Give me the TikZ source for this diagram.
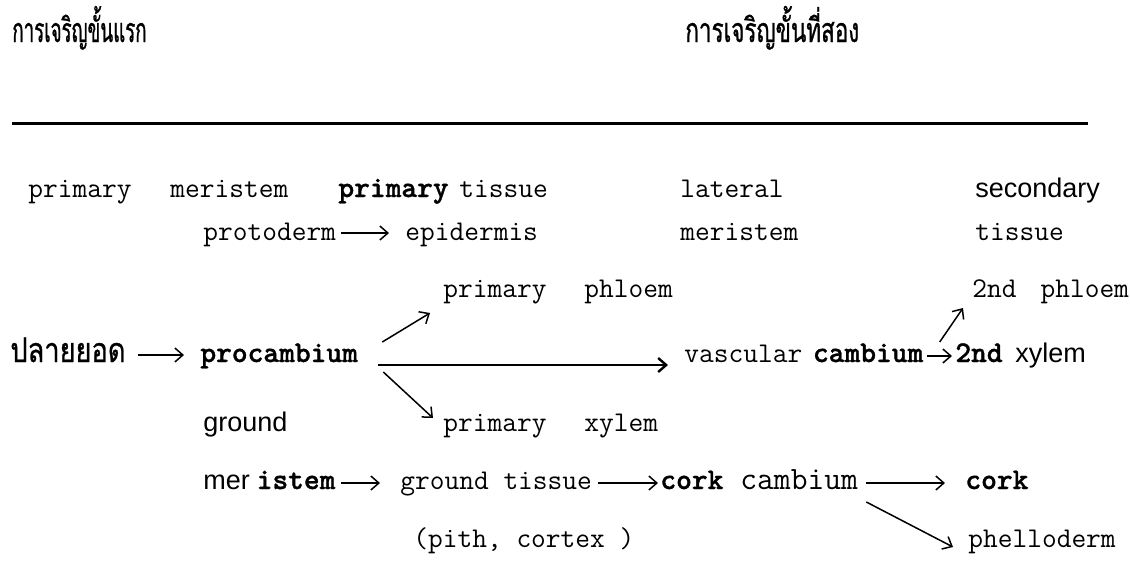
\documentclass[tikz,border=0pt]{standalone}
\usepackage{fontspec}
\setsansfont{Liberation Sans}
\newfontfamily\thaifont[Script=Thai,FakeStretch=0.55,FakeBold=0.8]{Loma}
\newfontfamily\thaiwide[Script=Thai,FakeStretch=0.66,FakeBold=0.8]{Loma}
\newfontfamily\tipfont[Script=Thai,FakeStretch=0.8,FakeBold=0.8]{Loma}
\newfontfamily\heavytt[FakeBold=1.2]{lmmonolt10-bold.otf}
\usepackage{tikz}
\usetikzlibrary{arrows,arrows.meta,positioning}
\tikzstyle{word} = [inner sep=0pt, anchor=base west,
    font=\ttfamily\fontsize{14.3}{16}\selectfont]
\tikzstyle{boldword} = [word, font=\heavytt\fontsize{15}{16}\selectfont]
\tikzstyle{sansword} = [word, font=\sffamily\fontsize{13.5}{15}\selectfont]
\tikzstyle{thaiword} = [word, font=\thaifont\fontsize{17}{20}\selectfont]
\tikzstyle{line} = [draw, -{Straight Barb[length=4pt,width=7pt]}, line width=0.75pt]

\begin{document}
\begin{tikzpicture}[x=0.5pt,y=-0.5pt]
    \useasboundingbox (0,0) rectangle (1130,574);
    % Headings
    \node [thaiword] (first) at (12,42) {การเจริญขั้นแรก};
    \node [thaiword, font=\thaiwide\fontsize{17}{20}\selectfont] (second) at (685,42) {การเจริญขั้นที่สอง};
    \draw [line width=1.5pt] (12,123) -- (1088,123);
    % Place nodes
    \node [word] (pm) at (28,197) {primary};
    \node [word] (meri) at (170,197) {meristem};
    \node [boldword] (pt) at (338,197) {primary};
    \node [word, right=5pt of pt.base east, anchor=base west] (pttis) {tissue};
    \node [word] (lateral) at (680,197) {lateral};
    \node [sansword] (sec) at (975,197) {secondary};

    \node [word] (proto) at (203,240) {protoderm};
    \node [word] (epi) at (405,240) {epidermis};
    \node [word] (latmeri) at (680,240) {meristem};
    \node [word] (sectis) at (975,240) {tissue};

    \node [word] (phlA) at (443,297) {primary\hspace{19pt}phloem};
    \node [word] (phlB) at (972,297) {2nd\hspace{12pt}phloem};

    \node [thaiword, font=\tipfont\fontsize{17}{20}\selectfont] (tip) at (10,362) {ปลายยอด};
    \node [boldword] (procam) at (200,362) {procambium};
    \node [word] (vasc) at (684,362) {vascular};
    \node [boldword, right=5pt of vasc.base east, anchor=base west] (vcam) {cambium};
    \node [boldword] (xylB) at (955,362) {2nd};
    \node [sansword, right=6pt of xylB.base east, anchor=base west] (xylBw) {xylem};

    \node [sansword] (ground) at (203,431) {ground};
    \node [word] (xylA) at (443,431) {primary\hspace{19pt}xylem};

    \node [sansword] (mer) at (203,489) {mer};
    \node [boldword, right=3pt of mer.base east, anchor=base west] (istem) {istem};
    \node [word] (gtis) at (400,489) {ground tissue};
    \node [boldword] (corkA) at (660,489) {cork};
    \node [word, font=\ttfamily\fontsize{16.3}{17}\selectfont] (ccam) at (740,489) {cambium};
    \node [boldword] (corkB) at (965,489) {cork};

    \node [word] (pith) at (413,547) {(pith, cortex )};
    \node [word] (phello) at (968,547) {phelloderm};
    % Draw edges
    \path [line] ([xshift=6pt,yshift=3.5pt]tip.base east) -- ([xshift=-8pt,yshift=3.5pt]procam.base west);
    \path [line] ([xshift=2.5pt,yshift=3.5pt]proto.base east) -- ([xshift=-8pt,yshift=3.5pt]epi.base west);
    \path [line] ([xshift=12pt,yshift=10pt]procam.base east) -- ([xshift=-6.5pt,yshift=-8pt]phlA.base west);
    \path [line, line width=1.2pt] ([xshift=10pt,yshift=-1.5pt]procam.base east) -- ([xshift=-8pt,yshift=-1.5pt]vasc.base west);
    \path [line] ([xshift=12.5pt,yshift=-5pt]procam.base east) -- ([xshift=-5pt,yshift=6.5pt]xylA.base west);
    \path [line] ([xshift=1.5pt,yshift=3pt]vcam.base east) -- ([xshift=-1.5pt,yshift=3pt]xylB.base west);
    \path [line] ([xshift=8pt,yshift=10pt]vcam.base east) -- ([xshift=-4.5pt,yshift=-5.5pt]phlB.base west);
    \path [line] ([xshift=2.5pt,yshift=3pt]istem.base east) -- ([xshift=-10pt,yshift=3pt]gtis.base west);
    \path [line] ([xshift=3pt,yshift=3pt]gtis.base east) -- ([xshift=-1pt,yshift=3pt]corkA.base west);
    \path [line] ([xshift=4pt,yshift=3pt]ccam.base east) -- ([xshift=-10pt,yshift=3pt]corkB.base west);
    \path [line] ([xshift=4pt,yshift=-6.5pt]ccam.base east) -- ([xshift=-7.5pt,yshift=0pt]phello.base west);
\end{tikzpicture}
\end{document}
